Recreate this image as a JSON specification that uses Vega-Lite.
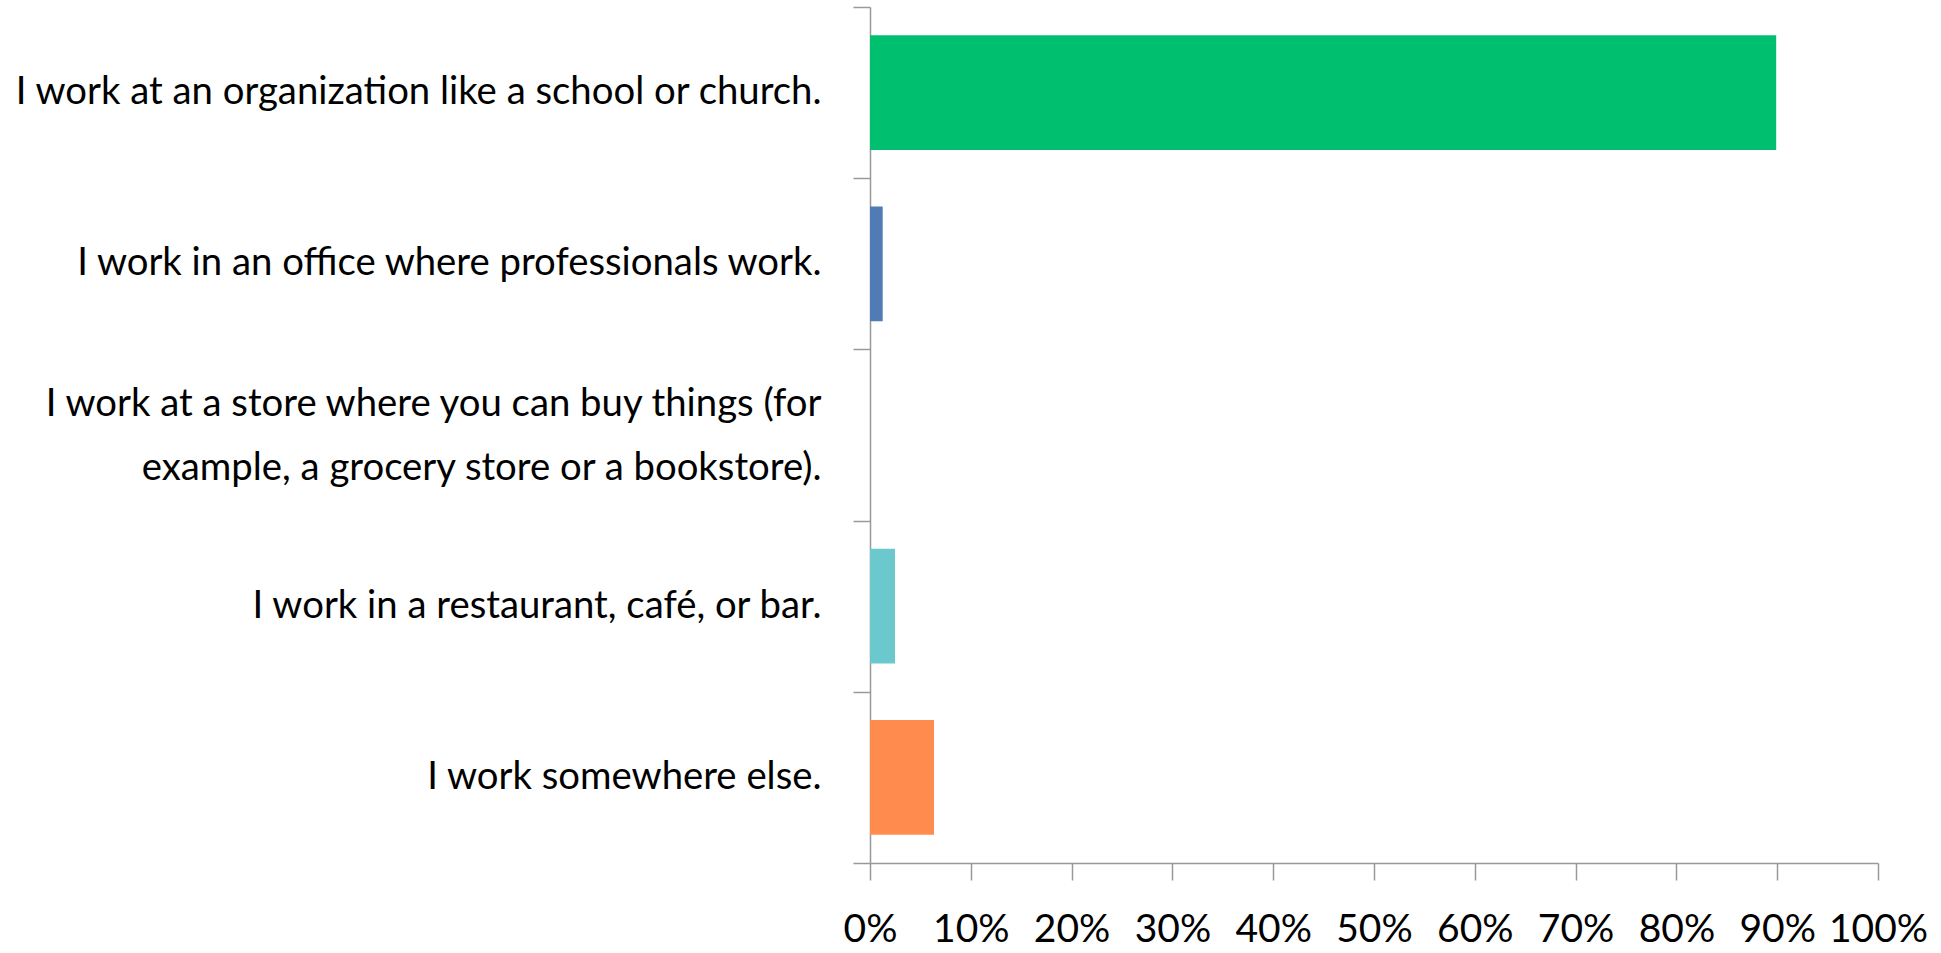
{
  "$schema": "https://vega.github.io/schema/vega-lite/v6.json",
  "autosize": "none",
  "padding": {"left": 870, "top": 7, "right": 63, "bottom": 90},
  "width": 1008,
  "height": 856,
  "background": "white",
  "config": {"view": {"stroke": null}},
  "data": {
    "values": [
      {"answer": "I work at an organization like a school or church.", "share": 0.899},
      {"answer": "I work in an office where professionals work.", "share": 0.0126},
      {"answer": "I work at a store where you can buy things (for|example, a grocery store or a bookstore).", "share": 0},
      {"answer": "I work in a restaurant, café, or bar.", "share": 0.0248},
      {"answer": "I work somewhere else.", "share": 0.0635}
    ]
  },
  "mark": {"type": "bar", "height": {"band": 0.67}},
  "encoding": {
    "y": {
      "field": "answer",
      "type": "nominal",
      "sort": null,
      "scale": {"paddingInner": 0, "paddingOuter": 0},
      "axis": {
        "title": null,
        "tickBand": "extent",
        "tickSize": 17,
        "tickColor": "#999999",
        "tickWidth": 1.5,
        "domainColor": "#999999",
        "domainWidth": 1.5,
        "labelFont": "Lato",
        "labelFontSize": 38.3,
        "labelColor": "#000000",
        "labelPadding": 32,
        "labelLimit": 0,
        "labelLineHeight": 64,
        "labelExpr": "split('' + datum.label, '|')",
        "labelOffset": {"condition": {"test": "indexof('' + datum.value, '|') >= 0", "value": -31}, "value": 0}
      }
    },
    "x": {
      "field": "share",
      "type": "quantitative",
      "scale": {"domain": [0, 1], "nice": false},
      "axis": {
        "title": null,
        "values": [0, 0.1, 0.2, 0.3, 0.4, 0.5, 0.6, 0.7, 0.8, 0.9, 1],
        "format": ".0%",
        "grid": false,
        "tickSize": 17,
        "tickColor": "#999999",
        "tickWidth": 1.5,
        "domainColor": "#999999",
        "domainWidth": 1.5,
        "labelFont": "Lato",
        "labelFontSize": 39,
        "labelColor": "#000000",
        "labelPadding": 30,
        "labelFlush": false,
        "labelOverlap": false
      }
    },
    "color": {
      "field": "answer",
      "type": "nominal",
      "sort": null,
      "scale": {"range": ["#00BF6F", "#507CB6", "#F9BE00", "#6BC8CD", "#FF8B4F"]},
      "legend": null
    }
  }
}
